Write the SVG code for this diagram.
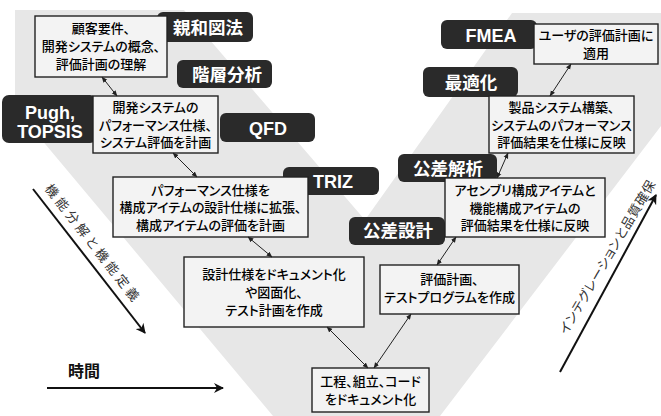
<svg xmlns="http://www.w3.org/2000/svg" width="661" height="416" viewBox="0 0 661 416">
<defs>
<style>
.bg{fill:#e7e7e7}
.box{fill:#f3f3f3;stroke:#222;stroke-width:1.4}
.lbl{fill:#2a2a2a}
.t{font-family:"Noto Sans CJK JP",sans-serif;font-size:13px;font-weight:500;fill:#000;text-anchor:middle;font-feature-settings:"palt" 1}
.lj{font-family:"Noto Sans CJK JP",sans-serif;font-size:17.5px;font-weight:bold;fill:#fff;text-anchor:middle}
.le{font-family:"Liberation Sans",Arial,sans-serif;font-size:18px;font-weight:bold;fill:#fff;text-anchor:middle}
.side{font-family:"Noto Sans CJK JP",sans-serif;font-size:13px;fill:#333;text-anchor:middle;font-feature-settings:"palt" 1}
.c{stroke:#222;stroke-width:1;fill:none;marker-start:url(#ah);marker-end:url(#ah)}
.big{stroke:#111;stroke-width:2;fill:none;marker-end:url(#ahb)}
</style>
<marker id="ah" viewBox="0 0 10 10" refX="9" refY="5" markerWidth="6" markerHeight="6" orient="auto-start-reverse" markerUnits="userSpaceOnUse"><path d="M0,1 L10,5 L0,9 Z" fill="#222"/></marker>
<marker id="ahb" viewBox="0 0 10 10" refX="9" refY="5" markerWidth="10" markerHeight="10" orient="auto" markerUnits="userSpaceOnUse"><path d="M0,0 L10,5 L0,10 L3,5 Z" fill="#111"/></marker>
</defs>
<rect width="661" height="416" fill="#fff"/>
<path class="bg" d="M15,10 L184,10 L365,220 L512,13 L661,13 L661,126 L440,416 L273,416 L15,108 Z"/>

<g id="label-shinwa"><rect class="lbl" x="157" y="12" width="96" height="30" rx="6"/><text class="lj" x="208" y="33.5">親和図法</text></g>
<g id="label-kaisou"><rect class="lbl" x="177" y="60" width="95" height="28" rx="6"/><text class="lj" x="227" y="80.5">階層分析</text></g>
<g id="label-pugh"><rect class="lbl" x="2" y="95" width="95" height="48" rx="7"/><text class="le" x="50" y="119">Pugh,</text><text class="le" x="50" y="138">TOPSIS</text></g>
<g id="label-qfd"><rect class="lbl" x="220" y="113" width="95" height="29" rx="6"/><text class="le" x="268" y="134.5">QFD</text></g>
<g id="label-triz"><rect class="lbl" x="283" y="167" width="96" height="28" rx="6"/><text class="le" x="333" y="188">TRIZ</text></g>
<g id="label-fmea"><rect class="lbl" x="441" y="20" width="96" height="29" rx="6"/><text class="le" x="491" y="42">FMEA</text></g>
<g id="label-saiteki"><rect class="lbl" x="423" y="67" width="95" height="30" rx="6"/><text class="lj" x="471" y="89">最適化</text></g>
<g id="label-kousakaiseki"><rect class="lbl" x="398" y="154" width="99" height="28" rx="6"/><text class="lj" x="448" y="174.5">公差解析</text></g>
<g id="label-kousasekkei"><rect class="lbl" x="349" y="217" width="96" height="28" rx="6"/><text class="lj" x="398" y="237">公差設計</text></g>

<g id="node-1"><rect class="box" x="35" y="16" width="132" height="61"/><text class="t" x="101" y="33">顧客要件、</text><text class="t" x="101" y="51">開発システムの概念、</text><text class="t" x="101" y="69">評価計画の理解</text></g>
<g id="node-2"><rect class="box" x="93" y="96" width="125" height="57"/><text class="t" x="155.5" y="112">開発システムの</text><text class="t" x="155.5" y="129.5">パフォーマンス仕様、</text><text class="t" x="155.5" y="147">システム評価を計画</text></g>
<g id="node-3"><rect class="box" x="113" y="177" width="195" height="60"/><text class="t" x="210.5" y="194.5">パフォーマンス仕様を</text><text class="t" x="210.5" y="212">構成アイテムの設計仕様に拡張、</text><text class="t" x="210.5" y="229.5">構成アイテムの評価を計画</text></g>
<g id="node-4"><rect class="box" x="184" y="257" width="180" height="70"/><text class="t" x="274" y="279">設計仕様をドキュメント化</text><text class="t" x="274" y="297">や図面化、</text><text class="t" x="274" y="315">テスト計画を作成</text></g>
<g id="node-5"><rect class="box" x="312" y="368" width="117" height="44"/><text class="t" x="370.5" y="386">工程、組立、コード</text><text class="t" x="370.5" y="404">をドキュメント化</text></g>
<g id="node-6"><rect class="box" x="380" y="265" width="139" height="49"/><text class="t" x="449.5" y="284">評価計画、</text><text class="t" x="449.5" y="302">テストプログラムを作成</text></g>
<g id="node-7"><rect class="box" x="445" y="178" width="160" height="59"/><text class="t" x="525" y="195">アセンブリ構成アイテムと</text><text class="t" x="525" y="212.5">機能構成アイテムの</text><text class="t" x="525" y="230">評価結果を仕様に反映</text></g>
<g id="node-8"><rect class="box" x="489" y="96" width="145" height="57"/><text class="t" x="561.5" y="112">製品システム構築、</text><text class="t" x="561.5" y="129.5">システムのパフォーマンス</text><text class="t" x="561.5" y="147">評価結果を仕様に反映</text></g>
<g id="node-9"><rect class="box" x="534" y="24" width="124" height="40"/><text class="t" x="596" y="39.5">ユーザの評価計画に</text><text class="t" x="596" y="57.5">適用</text></g>

<g id="connectors">
<line class="c" x1="102" y1="77" x2="117" y2="96"/>
<line class="c" x1="173" y1="153" x2="197" y2="177"/>
<line class="c" x1="248" y1="237" x2="272" y2="257"/>
<line class="c" x1="327" y1="327" x2="368" y2="368"/>
<line class="c" x1="411" y1="314" x2="374" y2="368"/>
<line class="c" x1="456" y1="237" x2="437" y2="265"/>
<line class="c" x1="497" y1="178" x2="508" y2="153"/>
<line class="c" x1="550" y1="96" x2="571" y2="64"/>
</g>

<g id="axis-left"><line class="big" x1="33" y1="189" x2="145" y2="333"/><text class="side" transform="translate(92.5,242.5) rotate(52)" x="0" y="5" textLength="144" lengthAdjust="spacing">機能分解と機能定義</text></g>
<g id="axis-right"><line class="big" x1="560" y1="372" x2="656" y2="195"/><text class="side" transform="translate(607,257) rotate(-59.5)" x="0" y="5" textLength="176" lengthAdjust="spacing">インテグレーションと品質確保</text></g>
<g id="axis-time"><text x="84" y="377" font-family="Noto Sans CJK JP,sans-serif" font-size="16" font-weight="bold" fill="#111" text-anchor="middle">時間</text><line class="big" x1="47" y1="388" x2="223" y2="388"/></g>
</svg>
